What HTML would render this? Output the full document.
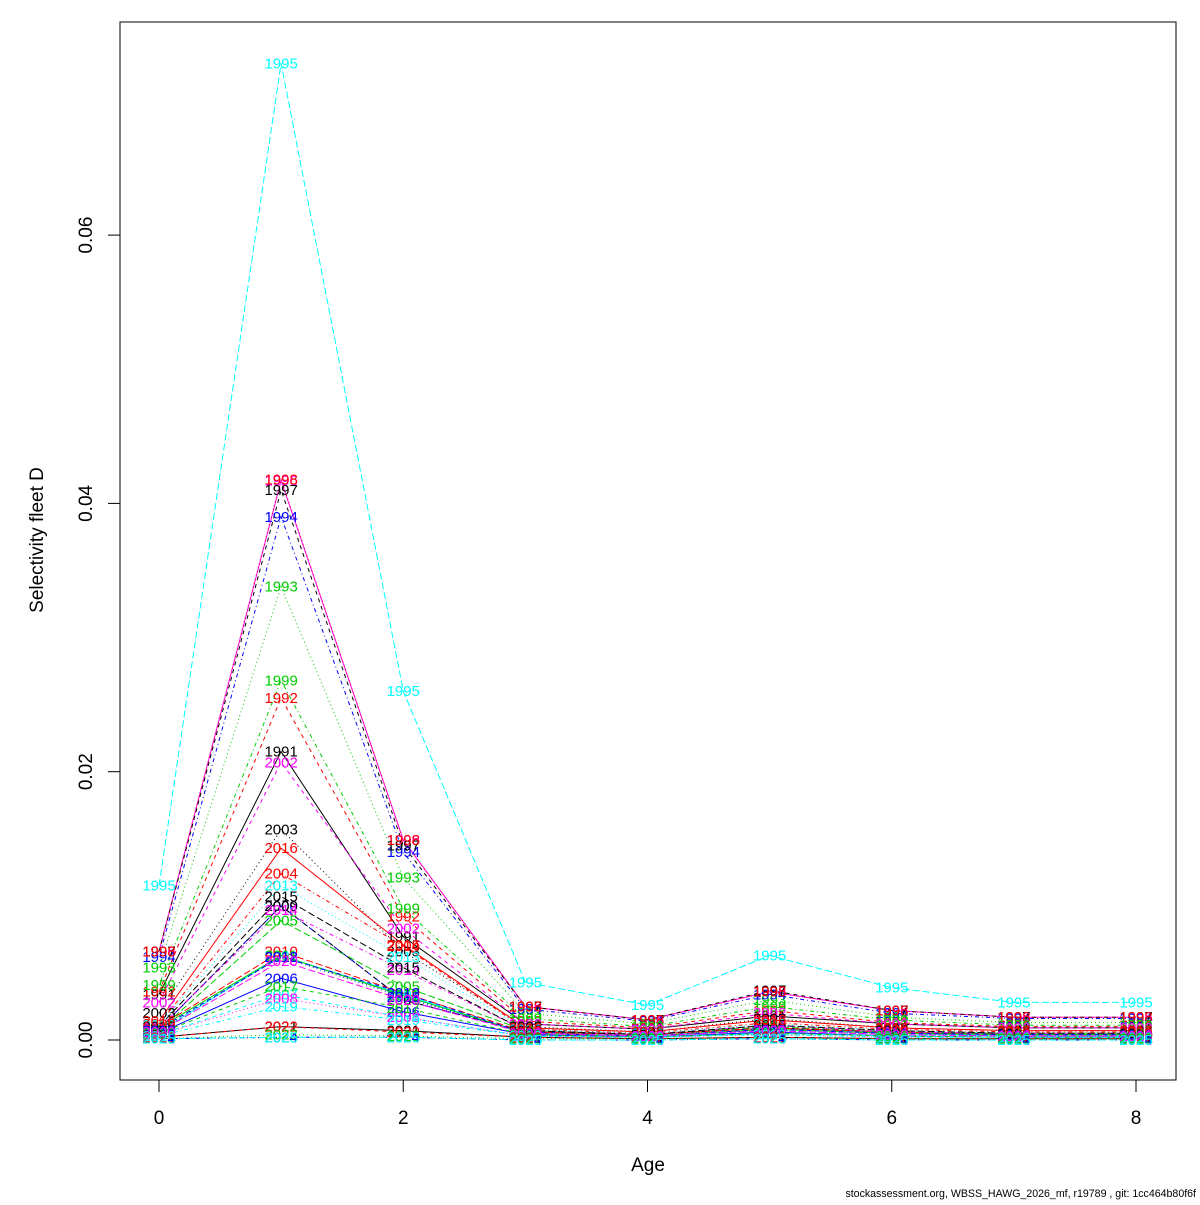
<!DOCTYPE html>
<html><head><meta charset="utf-8"><style>
html,body{margin:0;padding:0;background:#fff;}
svg text{font-family:"Liberation Sans",sans-serif;}
</style></head><body>
<svg id="chart" width="1200" height="1200" xmlns="http://www.w3.org/2000/svg">
<rect x="0" y="0" width="1200" height="1200" fill="#fff"/>
<rect x="120" y="22" width="1056" height="1058" fill="none" stroke="#000" stroke-width="1"/>
<g id="axes"></g>
<g id="lines"></g>
<g id="labels"></g>
<text x="648" y="1171" font-size="19" text-anchor="middle">Age</text>
<text transform="translate(43,540) rotate(-90)" font-size="19" text-anchor="middle">Selectivity fleet D</text>
<text x="1196" y="1197" font-size="10.6" text-anchor="end">stockassessment.org, WBSS_HAWG_2026_mf, r19789 , git: 1cc464b80f6f</text>
</svg>
<script>
const ages=[0,1,2,3,4,5,6,7,8];
const years=[1991,1992,1993,1994,1995,1996,1997,1998,1999,2000,2001,2002,2003,2004,2005,2006,2007,2008,2009,2010,2011,2012,2013,2014,2015,2016,2017,2018,2019,2020,2021,2022,2023,2024,2025];
const s1991=[0.0034,0.0215,0.0077,0.0012,0.0008,0.0018,0.0012,0.0009,0.0009];
const s1992=[0.0036,0.0255,0.0092,0.0014,0.0009,0.0022,0.0013,0.0010,0.0010];
const s1993=[0.0054,0.0338,0.0121,0.0020,0.0012,0.0030,0.0017,0.0013,0.0013];
const s1994=[0.0062,0.0390,0.0140,0.0023,0.0014,0.0034,0.0020,0.0016,0.0016];
const s1995=[0.0115,0.0728,0.0260,0.0043,0.0026,0.0063,0.0039,0.0028,0.0028];
const s1996=[0.0066,0.0417,0.0149,0.0025,0.0015,0.0036,0.0022,0.0017,0.0017];
const s1997=[0.0066,0.0410,0.0145,0.0025,0.0015,0.0037,0.0022,0.0017,0.0017];
const s1998=[0.0066,0.0418,0.0149,0.0025,0.0015,0.0036,0.0022,0.0017,0.0017];
const s1999=[0.0041,0.0268,0.0098,0.0016,0.0010,0.0025,0.0015,0.0011,0.0011];
const s2000=[0.0008,0.0100,0.0030,0.0006,0.0004,0.0009,0.0006,0.0004,0.0004];
const s2001=[0.0006,0.0063,0.0034,0.0005,0.0003,0.0008,0.0005,0.0003,0.0003];
const s2002=[0.0028,0.0207,0.0083,0.0012,0.0008,0.0020,0.0012,0.0009,0.0009];
const s2003=[0.0020,0.0157,0.0066,0.0010,0.0006,0.0016,0.0009,0.0007,0.0007];
const s2004=[0.0012,0.0124,0.0070,0.0008,0.0005,0.0013,0.0008,0.0006,0.0006];
const s2005=[0.0007,0.0089,0.0040,0.0007,0.0004,0.0010,0.0006,0.0005,0.0005];
const s2006=[0.0005,0.0046,0.0021,0.0004,0.0002,0.0006,0.0003,0.0002,0.0002];
const s2007=[0.0004,0.0034,0.0017,0.0003,0.0002,0.0005,0.0003,0.0002,0.0002];
const s2008=[0.0004,0.0031,0.0017,0.0003,0.0002,0.0004,0.0002,0.0002,0.0002];
const s2009=[0.0008,0.0100,0.0030,0.0006,0.0004,0.0009,0.0006,0.0004,0.0004];
const s2010=[0.0010,0.0066,0.0035,0.0006,0.0004,0.0009,0.0006,0.0004,0.0004];
const s2011=[0.0009,0.0063,0.0033,0.0005,0.0003,0.0008,0.0005,0.0004,0.0004];
const s2012=[0.0008,0.0062,0.0035,0.0005,0.0003,0.0008,0.0005,0.0004,0.0004];
const s2013=[0.0011,0.0115,0.0062,0.0008,0.0005,0.0012,0.0007,0.0005,0.0005];
const s2014=[0.0009,0.0097,0.0052,0.0007,0.0004,0.0011,0.0006,0.0005,0.0005];
const s2015=[0.0010,0.0107,0.0054,0.0007,0.0004,0.0011,0.0007,0.0005,0.0005];
const s2016=[0.0014,0.0143,0.0071,0.0009,0.0006,0.0015,0.0009,0.0007,0.0007];
const s2017=[0.0005,0.0040,0.0024,0.0004,0.0002,0.0005,0.0003,0.0002,0.0002];
const s2018=[0.0007,0.0062,0.0032,0.0005,0.0003,0.0007,0.0004,0.0003,0.0003];
const s2019=[0.0003,0.0025,0.0015,0.0003,0.0002,0.0004,0.0002,0.0002,0.0002];
const s2020=[0.0006,0.0059,0.0030,0.0005,0.0003,0.0007,0.0004,0.0003,0.0003];
const s2021=[0.0002,0.0010,0.0007,0.0002,0.0001,0.0002,0.0001,0.0001,0.0001];
const s2022=[0.0002,0.0010,0.0006,0.0002,0.0001,0.0002,0.0001,0.0001,0.0001];
const s2023=[0.0001,0.0004,0.0003,0.0001,0.0001,0.0001,0.0001,0.0001,0.0001];
const s2024=[0.0001,0.0002,0.0002,0.0000,0.0000,0.0001,0.0000,0.0000,0.0000];
const s2025=[0.0001,0.0002,0.0002,0.0000,0.0000,0.0001,0.0000,0.0000,0.0000];
const series=[s1991,s1992,s1993,s1994,s1995,s1996,s1997,s1998,s1999,s2000,s2001,s2002,s2003,s2004,s2005,s2006,s2007,s2008,s2009,s2010,s2011,s2012,s2013,s2014,s2015,s2016,s2017,s2018,s2019,s2020,s2021,s2022,s2023,s2024,s2025];
const xTicks=[0,2,4,6,8];
const yTicks=[0,0.02,0.04,0.06];
const yTickLabels=["0.00","0.02","0.04","0.06"];

const NS="http://www.w3.org/2000/svg";
function xs(a){return 159+(a-0)*(1136-159)/8;}
function ys(v){return 1040-v*13415;}
const cols=["#000000","#FF0000","#00CD00","#0000FF","#00FFFF","#FF00FF"];
const dashes=["","4,4","1,3","1,3,4,3","7,3"];
function mk(tag,attrs,parent){const e=document.createElementNS(NS,tag);for(const k in attrs)e.setAttribute(k,attrs[k]);parent.appendChild(e);return e;}

const axes=document.getElementById('axes');
mk('line',{x1:xs(0),x2:xs(8),y1:1080,y2:1080,stroke:'#000'},axes);
xTicks.forEach(t=>{
  const l=mk('line',{x1:xs(t),x2:xs(t),y1:1080,y2:1092,stroke:'#000'},axes);
  
  
  const tx=mk('text',{x:xs(t),y:1124,'font-size':19,'text-anchor':'middle'},axes);
  tx.textContent=t;
  
  
});
mk('line',{x1:120,x2:120,y1:ys(0),y2:ys(0.06),stroke:'#000'},axes);
yTicks.forEach((t,i)=>{
  const l=mk('line',{x1:108,x2:120,y1:ys(t),y2:ys(t),stroke:'#000'},axes);
  
  
  const tx=mk('text',{transform:`translate(92,${ys(t)}) rotate(-90)`,'font-size':19,'text-anchor':'middle'},axes);
  tx.textContent=yTickLabels[i];
  
  
});

const lg=document.getElementById('lines'), lb=document.getElementById('labels');
series.forEach((s,i)=>{
  const c=cols[i%6], d=dashes[i%5];
  const pts=s.map((v,j)=>xs(ages[j]).toFixed(1)+','+ys(v).toFixed(1)).join(' ');
  const p=mk('polyline',{points:pts,fill:'none',stroke:c,'stroke-width':1},lg);
  if(d)p.setAttribute('stroke-dasharray',d);
  
  
});
series.forEach((s,i)=>{
  const c=cols[i%6];
  s.forEach((v,j)=>{
    const t=mk('text',{x:xs(ages[j]),y:ys(v)+5,'font-size':15,'text-anchor':'middle',fill:c},lb);
    t.textContent=years[i];
    
    
  });
});
</script>
</body></html>
